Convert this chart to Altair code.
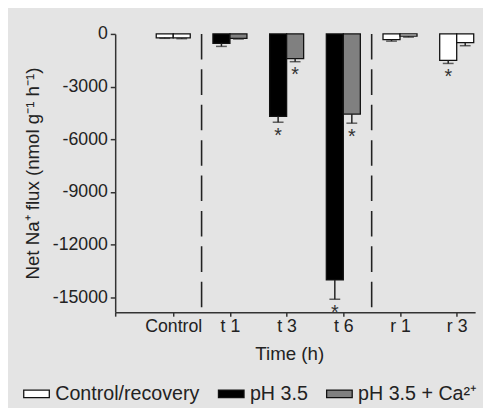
import json
import altair as alt
import pandas as pd

groups = ["Control", "t 1", "t 3", "t 6", "r 1", "r 3"]
series_names = ["Control/recovery", "pH 3.5", "pH 3.5 + Ca²⁺"]
series_colors = ["#ffffff", "#000000", "#808080"]
left_series = ["Control/recovery", "pH 3.5", "pH 3.5", "pH 3.5", "Control/recovery", "Control/recovery"]
right_series = ["Control/recovery", "pH 3.5 + Ca²⁺", "pH 3.5 + Ca²⁺", "pH 3.5 + Ca²⁺", "Control/recovery", "Control/recovery"]
left_mean = [-220, -540, -4690, -14000, -320, -1500]
left_sem = [30, 170, 335, 1100, 90, 180]
right_mean = [-230, -250, -1400, -4560, -120, -500]
right_sem = [40, 40, 180, 520, 60, 170]
left_star = [False, False, True, True, False, True]
right_star = [False, False, True, True, False, False]
separators = [0.5, 3.5]
y_ticks = [0, -3000, -6000, -9000, -12000, -15000]

rows = []
for i in range(len(groups)):
    rows.append(dict(idx=i, side=-1, series=left_series[i], mean=left_mean[i], sem=left_sem[i], star=left_star[i]))
    rows.append(dict(idx=i, side=1, series=right_series[i], mean=right_mean[i], sem=right_sem[i], star=right_star[i]))
df = pd.DataFrame(rows)

FONT = "Liberation Sans"
TXT = "#222222"
x_min, x_max = -1.024, 5.325
xscale = alt.Scale(domain=[x_min, x_max], nice=False, zero=False)
yscale = alt.Scale(domain=[-15840, 0], nice=False, zero=False)
x_title = "Time (h)"
y_title = "Net Na⁺ flux (nmol g⁻¹ h⁻¹)"

xaxis = alt.Axis(
    values=[x_min] + list(range(len(groups))),
    labelExpr="datum.value < 0 ? '' : " + json.dumps(groups) + "[datum.value]",
    grid=False, tickSize=4, labelPadding=2,
    titleX=177, titleY=42, titleBaseline="middle", titleAlign="center",
)
yaxis = alt.Axis(
    values=y_ticks,
    labelExpr="datum.value == 0 ? '0' : '' + datum.value",
    grid=False, tickSize=5, labelPadding=3,
    titleX=-84, titleY=141.5, titleAngle=270, titleAlign="center", titleBaseline="middle",
)

base = alt.Chart(df).transform_calculate(
    x0="datum.idx + (datum.side - 1) * 0.15",
    x1="datum.idx + (datum.side + 1) * 0.15",
    xc="datum.idx + datum.side * 0.15",
    lo="datum.mean - datum.sem",
    zero="0",
)

bars = base.mark_bar(stroke="#111111", strokeWidth=1.3).encode(
    x=alt.X("x0:Q", scale=xscale, axis=xaxis, title=x_title),
    x2="x1:Q",
    y=alt.Y("mean:Q", scale=yscale, axis=yaxis, title=y_title),
    y2="zero:Q",
    fill=alt.Fill(
        "series:N",
        scale=alt.Scale(domain=series_names, range=series_colors),
        legend=alt.Legend(
            title=None, orient="none", legendX=-94, legendY=352, direction="horizontal",
            symbolType="M-1,-0.3H1V0.3H-1Z", symbolSize=676, symbolStrokeColor="#111111",
            symbolStrokeWidth=1.3, symbolOpacity=1, labelFontSize=20, labelFont=FONT,
            labelColor=TXT, labelOffset=5, columnPadding=16, padding=0, labelLimit=300,
        ),
    ),
)

err = base.mark_rule(color="#222222", strokeWidth=1.5).encode(
    x=alt.X("xc:Q", scale=xscale, title=x_title),
    y=alt.Y("mean:Q", scale=yscale, title=y_title),
    y2="lo:Q",
)
caps = base.mark_tick(orient="horizontal", size=11, thickness=1.5, color="#222222").encode(
    x=alt.X("xc:Q", scale=xscale, title=x_title),
    y=alt.Y("lo:Q", scale=yscale, title=y_title),
)
stars = base.transform_filter("datum.star").mark_text(
    text="*", dy=14, baseline="middle", align="center", fontSize=20, font=FONT, color="#333333"
).encode(
    x=alt.X("xc:Q", scale=xscale, title=x_title),
    y=alt.Y("lo:Q", scale=yscale, title=y_title),
)

seps = alt.Chart(pd.DataFrame({"pos": separators})).mark_rule(
    strokeDash=[26, 10], strokeWidth=1.6, color="#222222"
).encode(x=alt.X("pos:Q", scale=xscale, title=x_title))

chart = alt.layer(seps, bars, err, caps, stars).properties(
    width=366, height=283,
    padding={"left": 109, "top": 23, "right": 8, "bottom": 94},
    autosize=alt.AutoSizeParams(type="none"),
).configure(
    background="#e4e4e4", font=FONT,
).configure_view(stroke=None).configure_axis(
    domainColor="#333333", domainWidth=1.5, tickColor="#333333", tickWidth=1.5,
    labelFont=FONT, labelFontSize=18, labelColor=TXT,
    titleFont=FONT, titleFontSize=19, titleColor=TXT, titleFontWeight="normal",
)

chart.save("out.html", embed_options={"renderer": "svg", "actions": False})
